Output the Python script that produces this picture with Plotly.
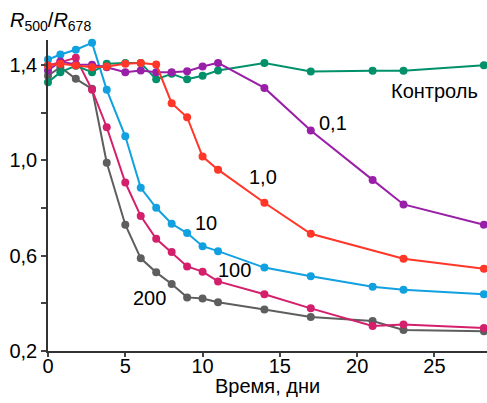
import plotly.graph_objects as go

days = [0, 0.8, 1.8, 2.85, 3.8, 5, 6, 7, 8, 9, 10, 11, 14, 17, 21, 23, 28.2]
days_red = [0, 0.8, 1.8, 2.85, 3.8, 5, 6, 7, 8, 9, 10, 11, 14, 17, 23, 28.2]

control = [1.328, 1.370, 1.397, 1.370, 1.405, 1.409, 1.409, 1.340, 1.363, 1.340, 1.355, 1.377,
           1.408, 1.373, 1.376, 1.376, 1.399]
c01 = [1.377, 1.415, 1.402, 1.401, 1.391, 1.370, 1.377, 1.370, 1.370, 1.374, 1.394, 1.409,
       1.304, 1.125, 0.918, 0.815, 0.730]
c10 = [1.398, 1.405, 1.398, 1.391, 1.394, 1.405, 1.408, 1.402, 1.240, 1.181, 1.016, 0.961,
       0.822, 0.692, 0.587, 0.545]
c10b = [1.423, 1.444, 1.464, 1.493, 1.296, 1.101, 0.885, 0.801, 0.734, 0.695, 0.640, 0.619,
        0.550, 0.514, 0.470, 0.457, 0.438]
c100 = [1.398, 1.412, 1.430, 1.296, 1.139, 0.907, 0.766, 0.671, 0.615, 0.555, 0.533, 0.492,
        0.438, 0.379, 0.305, 0.311, 0.296]
c200 = [1.355, 1.391, 1.342, 1.300, 0.990, 0.730, 0.589, 0.530, 0.481, 0.425, 0.420, 0.405,
        0.374, 0.343, 0.326, 0.288, 0.283]

yticks = [0.2, 0.4, 0.6, 0.8, 1.0, 1.2, 1.4]
ylabels = ["0,2", "", "0,6", "", "1,0", "", "1,4"]
xticks = [0, 5, 10, 15, 20, 25]

series = [
    ("200", days, c200, "#5e5e5e"),
    ("100", days, c100, "#d4206c"),
    ("10", days, c10b, "#11a0e0"),
    ("Контроль", days, control, "#00916b"),
    ("0,1", days, c01, "#9a1fa8"),
    ("1,0", days_red, c10, "#ff3628"),
]

fig = go.Figure()
for name, xs, ys, col in series:
    fig.add_trace(go.Scatter(x=xs, y=ys, mode="lines+markers", name=name,
                             line=dict(color=col, width=2),
                             marker=dict(color=col, size=8),
                             cliponaxis=False))

FAM = "Liberation Sans, Arial, sans-serif"
font = dict(family=FAM, size=20, color="black")

# pixel geometry of the plot area
PL, PR, PT, PB = 48.0, 487.0, 40.0, 350.7


def px(x):
    return (x - PL) / (PR - PL)


def py(y):
    return (PB - y) / (PB - PT)


labels = [
    ("Контроль", 434, 91),
    ("0,1", 333, 123),
    ("1,0", 263, 177),
    ("10", 206, 223),
    ("100", 234, 270),
    ("200", 149, 298),
]
for txt, x, y in labels:
    fig.add_annotation(text=txt, x=px(x), y=py(y), xref="paper", yref="paper",
                       showarrow=False, font=font, xanchor="center", yanchor="middle")

fig.add_annotation(text="Время, дни", x=px(267), y=py(386), xref="paper", yref="paper",
                   showarrow=False, font=font, xanchor="center", yanchor="middle")

fig.add_annotation(text="<i>R</i><sub>500</sub>/<i>R</i><sub>678</sub>", x=px(8), y=py(22),
                   xref="paper", yref="paper", xanchor="left", yanchor="middle",
                   showarrow=False, font=font)

fig.update_layout(
    width=487, height=403,
    margin=dict(l=48, r=0, t=40, b=52, pad=0),
    paper_bgcolor="white", plot_bgcolor="white",
    showlegend=False,
    font=font,
    xaxis=dict(range=[0, 28.4], tickvals=xticks, ticks="outside", ticklen=4, tickwidth=1.5,
               showline=True, linecolor="#333", linewidth=1.5, showgrid=False, zeroline=False,
               tickfont=font, ticklabelstandoff=-8),
    yaxis=dict(range=[0.2, 1.505], tickvals=yticks, ticktext=ylabels, ticks="outside",
               ticklen=5, tickwidth=1.5, showline=True, linecolor="#333", linewidth=1.5,
               showgrid=False, zeroline=False, tickfont=font),
)

fig.write_html("out.html", config={"displayModeBar": False},
               post_script="document.body.style.margin='0';document.body.style.overflow='hidden';")
